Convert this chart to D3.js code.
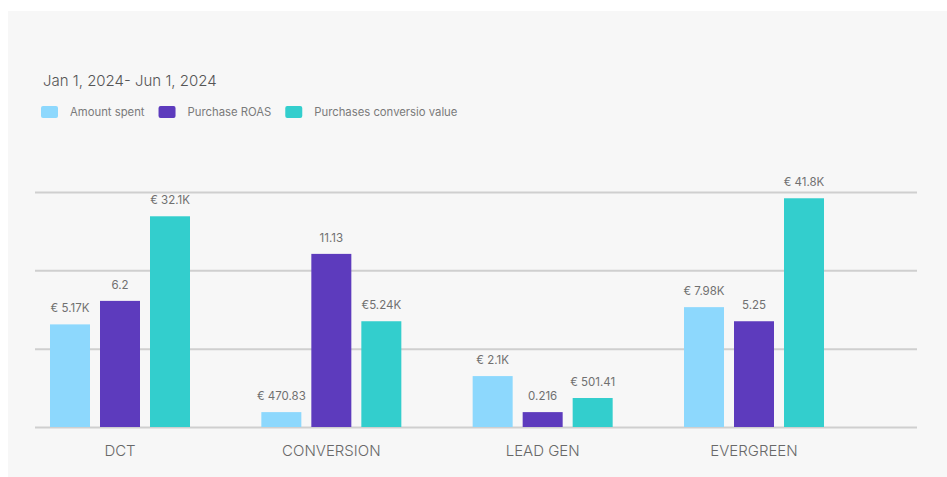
<!DOCTYPE html>
<html>
<head>
<meta charset="utf-8">
<script src="https://cdn.jsdelivr.net/npm/d3@7"></script>
<style>
    html, body { margin: 0; padding: 0; background: #ffffff; }
    svg { display: block; font-family: Inter, "Noto Sans", sans-serif; }
    .grid line { stroke: #cfcfcf; stroke-width: 2; }
    .grid .domain { display: none; }
    .cat text { fill: #686868; font-size: 15px; font-weight: 300; }
    .val { fill: #707070; font-size: 11.5px; text-anchor: middle; }
    .legend text { fill: #7a7a7a; font-size: 11.3px; }
</style>
</head>
<body>
<div id="chart"></div>
<script>
"use strict";

// campaigns along the x axis
var categories = ["DCT", "CONVERSION", "LEAD GEN", "EVERGREEN"];
var seriesNames = ["Amount spent", "Purchase ROAS", "Purchases conversio value"];

// bar heights as drawn, in gridline units (the mockup has no common axis)
var amountSpent = [1.31, 0.19, 0.65, 1.53];
var purchaseRoas = [1.61, 2.21, 0.19, 1.35];
var conversionValue = [2.69, 1.35, 0.37, 2.92];

// value labels printed above each bar
var amountLabels = ["€ 5.17K", "€ 470.83", "€ 2.1K", "€ 7.98K"];
var roasLabels = ["6.2", "11.13", "0.216", "5.25"];
var convLabels = ["€ 32.1K", "€5.24K", "€ 501.41", "€ 41.8K"];

var gridTicks = [0, 1, 2, 3];
var colors = ["#8dd8fd", "#5d3bbd", "#33cecd"];

(function () {
    var width = 947,
        height = 477,
        svg,
        x,
        xSub,
        y,
        series,
        groups,
        legend,
        lx = 41;

    svg = d3.select("#chart").append("svg")
        .attr("width", width)
        .attr("height", height);

    svg.append("rect")
        .attr("x", 8).attr("y", 11)
        .attr("width", width - 8).attr("height", height - 11)
        .attr("fill", "#f7f7f7");

    svg.append("text")
        .attr("x", 43).attr("y", 86)
        .style("font-size", "15px")
        .style("font-weight", "300")
        .style("fill", "#555555")
        .text("Jan 1, 2024- Jun 1, 2024");

    // legend
    legend = svg.append("g").attr("class", "legend");
    seriesNames.forEach(function (name, i) {
        var item = legend.append("g").attr("transform", "translate(" + lx + ",106)"),
            t;
        item.append("rect")
            .attr("width", 17).attr("height", 12).attr("rx", 2)
            .attr("fill", colors[i]);
        t = item.append("text")
            .attr("x", 29).attr("y", 10)
            .text(name);
        lx += 29 + t.node().getComputedTextLength() + 14;
    });

    x = d3.scalePoint().domain(categories).range([120, 754]);
    xSub = d3.scaleBand().domain(seriesNames).range([-70, 70]).paddingInner(0.2);
    y = d3.scaleLinear().domain([0, 3]).range([427, 192]);

    svg.append("g").attr("class", "grid")
        .attr("transform", "translate(35,0)")
        .call(d3.axisRight(y).tickValues(gridTicks).tickSize(882).tickFormat(""));

    series = [
        { name: seriesNames[0], values: amountSpent, labels: amountLabels, color: colors[0] },
        { name: seriesNames[1], values: purchaseRoas, labels: roasLabels, color: colors[1] },
        { name: seriesNames[2], values: conversionValue, labels: convLabels, color: colors[2] }
    ];

    groups = svg.selectAll(".series")
        .data(series).enter().append("g")
        .attr("class", "series");

    groups.selectAll("rect")
        .data(function (s) {
            return s.values.map(function (v, i) {
                return { s: s, cat: categories[i], v: v };
            });
        })
        .enter().append("rect")
        .attr("x", function (d) { return x(d.cat) + xSub(d.s.name); })
        .attr("y", function (d) { return y(d.v); })
        .attr("width", xSub.bandwidth())
        .attr("height", function (d) { return y(0) - y(d.v); })
        .attr("fill", function (d) { return d.s.color; });

    groups.selectAll("text")
        .data(function (s) {
            return s.values.map(function (v, i) {
                return { s: s, cat: categories[i], v: v, label: s.labels[i] };
            });
        })
        .enter().append("text")
        .attr("class", "val")
        .attr("x", function (d) { return x(d.cat) + xSub(d.s.name) + xSub.bandwidth() / 2; })
        .attr("y", function (d) { return y(d.v) - 12; })
        .text(function (d) { return d.label; });

    svg.append("g").attr("class", "cat")
        .selectAll("text")
        .data(categories).enter().append("text")
        .attr("x", function (d) { return x(d); })
        .attr("y", 456)
        .attr("text-anchor", "middle")
        .text(function (d) { return d; });
}());
</script>
</body>
</html>
